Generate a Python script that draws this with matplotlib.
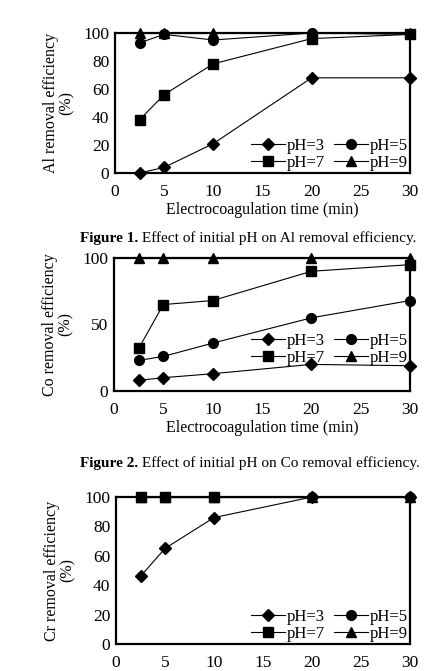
import matplotlib; matplotlib.use("Agg")
import matplotlib.pyplot as plt
import numpy as np

plt.rcParams["font.family"] = ["Liberation Serif", "DejaVu Serif"]
plt.rcParams["font.size"] = 11.5

# ---------- data ----------
time_min = [2.5, 5, 10, 20, 30]
labels = ["pH=3", "pH=5", "pH=7", "pH=9"]
markers = ["D", "o", "s", "^"]

al_ph3 = [0, 4, 21, 68, 68]
al_ph5 = [93, 99, 95, 100, 99]
al_ph7 = [38, 56, 78, 96, 99]
al_ph9 = [100, 100, 100, 100, 100]

co_ph3 = [8, 10, 13, 20, 19]
co_ph5 = [23, 26, 36, 55, 68]
co_ph7 = [32, 65, 68, 90, 95]
co_ph9 = [100, 100, 100, 100, 100]

cr_ph3 = [46, 65, 86, 100, 100]
cr_ph5 = [100, 100, 100, 100, 100]
cr_ph7 = [100, 100, 100, np.nan, np.nan]
cr_ph9 = [100, 100, 100, 100, 100]

W, H = 444, 671
fig = plt.figure(figsize=(W / 100, H / 100), dpi=100)


def panel(rect, series, ylab, yticks, leg_y, xlabel=True, order=(0, 1, 2, 3)):
    ax = fig.add_axes(rect)
    handles = {}
    for i in order:
        ln, = ax.plot(time_min, series[i], "-", marker=markers[i], color="k", lw=0.8,
                      ms=7 if markers[i] != "D" else 6, clip_on=False, label=labels[i])
        handles[i] = ln
    ax.set_xlim(0, 30); ax.set_ylim(0, 100)
    ax.set_xticks(range(0, 31, 5)); ax.set_yticks(yticks)
    ax.tick_params(axis="x", length=0, pad=8, labelsize=12.5)
    ax.tick_params(axis="y", length=0, pad=4, labelsize=12.5)
    for s in ax.spines.values():
        s.set_linewidth(1.6)
    ax.set_ylabel(ylab + "\n(%)", linespacing=1.0)
    ax.yaxis.set_label_coords(-40 / (rect[2] * W), 0.5)
    if xlabel:
        ax.set_xlabel("Electrocoagulation time (min)", labelpad=1)
    # legend filled row-wise: pH=3 pH=5 / pH=7 pH=9
    lo = [0, 2, 1, 3]
    ax.legend([handles[i] for i in lo], [labels[i] for i in lo], loc="lower right",
              bbox_to_anchor=(1.0, leg_y), ncol=2, frameon=False, fontsize=12,
              handlelength=2.0, handletextpad=0.1, columnspacing=0.6, labelspacing=0.05,
              borderaxespad=0.1, borderpad=0.05)
    return ax


al = [al_ph3, al_ph5, al_ph7, al_ph9]
co = [co_ph3, co_ph5, co_ph7, co_ph9]
cr = [cr_ph3, cr_ph5, cr_ph7, cr_ph9]

panel([115 / W, 1 - 173 / H, 295 / W, 140 / H], al, "Al removal efficiency", range(0, 101, 20), 0.0)
panel([114 / W, 1 - 391 / H, 296 / W, 133 / H], co, "Co removal efficiency", [0, 50, 100], 0.17)
panel([116 / W, 1 - 644 / H, 294 / W, 147 / H], cr, "Cr removal efficiency", range(0, 101, 20), 0.0,
      xlabel=False, order=(0, 3, 1, 2))

caps = [("Figure 1.", " Effect of initial pH on Al removal efficiency.", 238),
        ("Figure 2.", " Effect of initial pH on Co removal efficiency.", 463)]
for bold, rest, yp in caps:
    t1 = fig.text(80 / W, 1 - yp / H, bold, fontweight="bold", ha="left", va="center", fontsize=11)
    fig.canvas.draw()
    bb = t1.get_window_extent()
    fig.text(bb.x1 / W, 1 - yp / H, rest, ha="left", va="center", fontsize=11)

fig.savefig("out.png", dpi=100)
